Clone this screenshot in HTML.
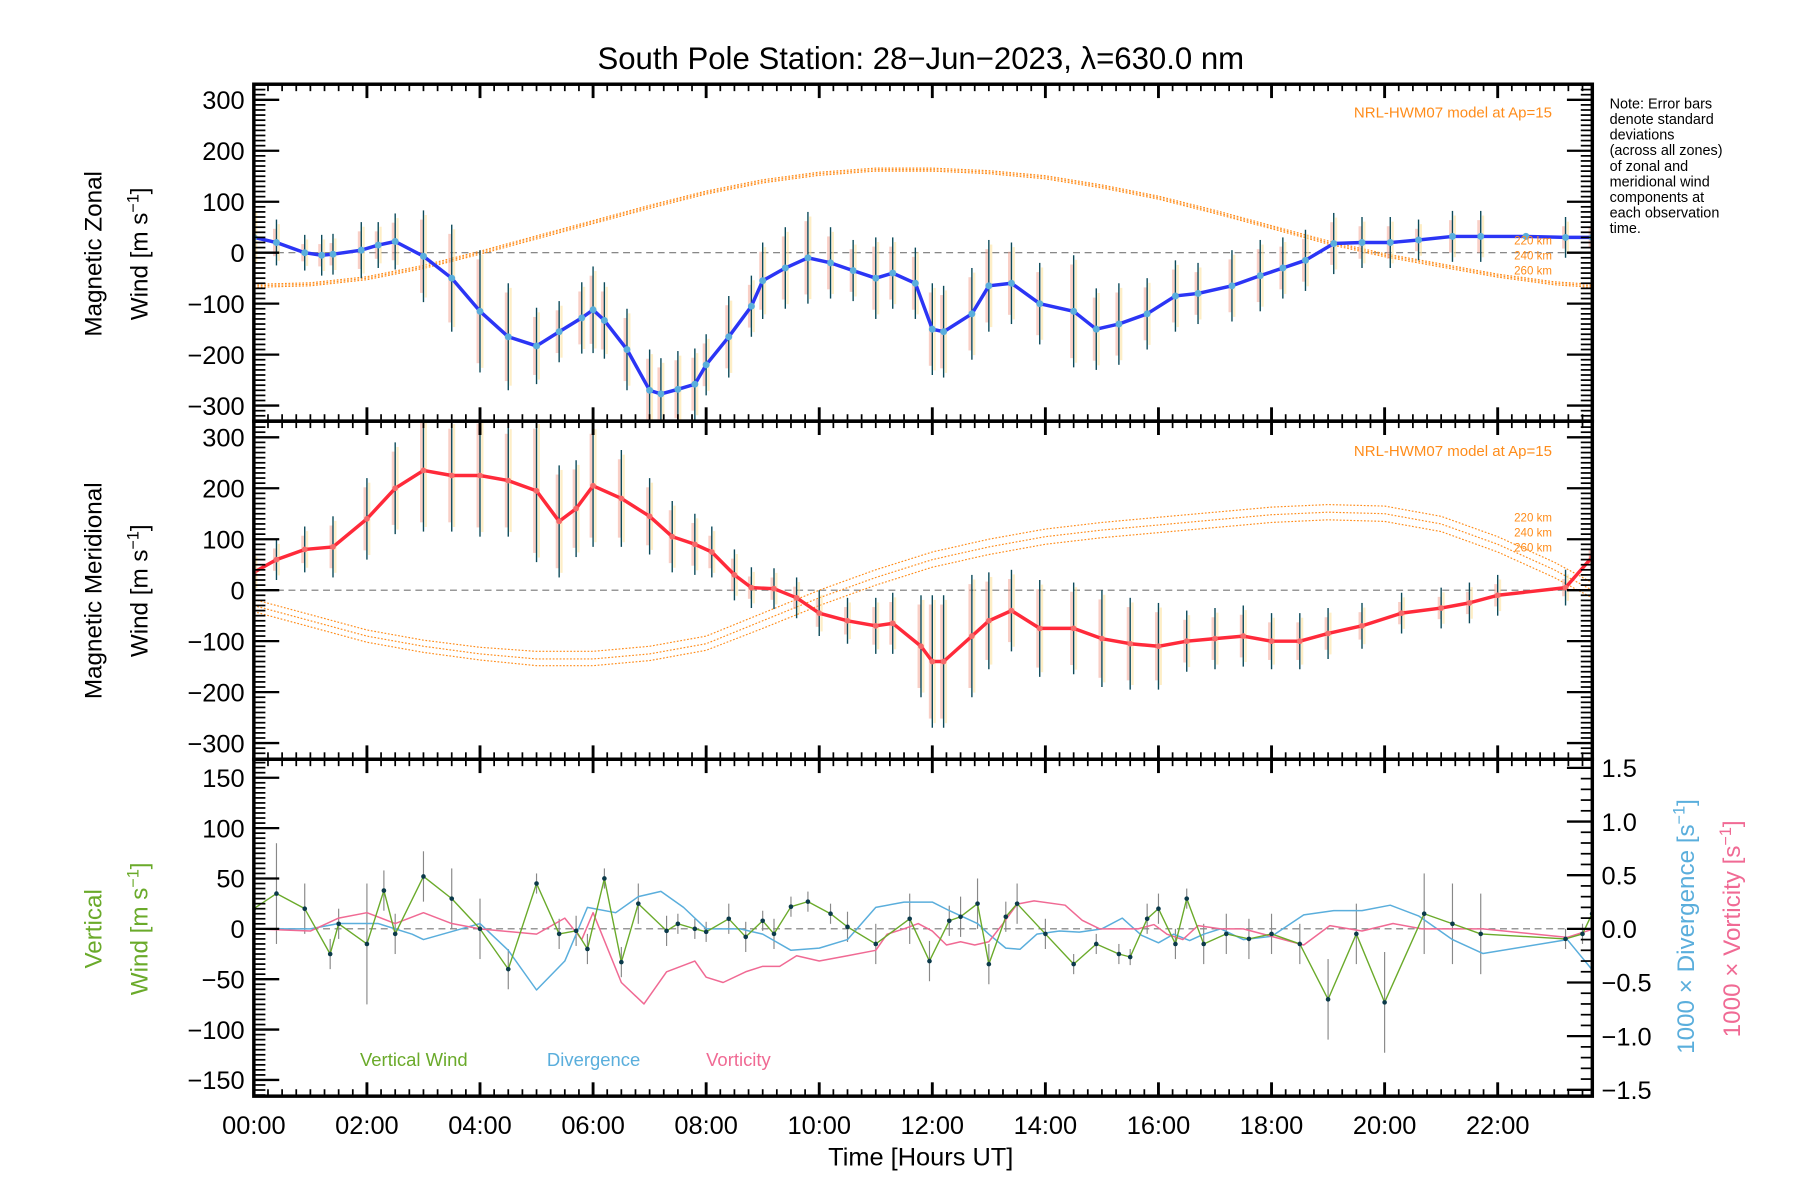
<!DOCTYPE html>
<html><head><meta charset="utf-8"><style>
html,body{margin:0;padding:0;background:#fff;width:1800px;height:1200px;overflow:hidden}
svg{display:block}
text{font-family:"Liberation Sans",sans-serif}
</style></head><body>
<svg id="chart" width="1800" height="1200" viewBox="0 0 1560 1040" xmlns="http://www.w3.org/2000/svg">
<rect width="1560" height="1040" fill="#fff"/>
<text x="798" y="60" font-size="27" text-anchor="middle" fill="#000">South Pole Station: 28−Jun−2023, λ=630.0 nm</text>
<g id="marks"></g>
<g id="axes"></g>
<text font-size="12.5" fill="#000"><tspan x="1395" y="94">Note: Error bars</tspan><tspan x="1395" y="107.5">denote standard</tspan><tspan x="1395" y="121">deviations</tspan><tspan x="1395" y="134.5">(across all zones)</tspan><tspan x="1395" y="148">of zonal and</tspan><tspan x="1395" y="161.5">meridional wind</tspan><tspan x="1395" y="175">components at</tspan><tspan x="1395" y="188.5">each observation</tspan><tspan x="1395" y="202">time.</tspan></text>
<text transform="translate(88,220) rotate(-90)" font-size="21" text-anchor="middle">Magnetic Zonal</text>
<text transform="translate(128,220) rotate(-90)" font-size="21" text-anchor="middle">Wind [m s<tspan dy="-8" font-size="14">−1</tspan><tspan dy="8">]</tspan></text>
<text transform="translate(88,512) rotate(-90)" font-size="21" text-anchor="middle">Magnetic Meridional</text>
<text transform="translate(128,512) rotate(-90)" font-size="21" text-anchor="middle">Wind [m s<tspan dy="-8" font-size="14">−1</tspan><tspan dy="8">]</tspan></text>
<text transform="translate(88,805) rotate(-90)" font-size="21" text-anchor="middle" fill="#6aaa2a">Vertical</text>
<text transform="translate(128,805) rotate(-90)" font-size="21" text-anchor="middle" fill="#6aaa2a">Wind [m s<tspan dy="-8" font-size="14">−1</tspan><tspan dy="8">]</tspan></text>
<text transform="translate(1468,803) rotate(-90)" font-size="21" text-anchor="middle" fill="#5aaedc">1000 × Divergence [s<tspan dy="-8" font-size="14">−1</tspan><tspan dy="8">]</tspan></text>
<text transform="translate(1508,805) rotate(-90)" font-size="21" text-anchor="middle" fill="#f06a94">1000 × Vorticity [s<tspan dy="-8" font-size="14">−1</tspan><tspan dy="8">]</tspan></text>
<text x="798" y="1010" font-size="22" text-anchor="middle">Time [Hours UT]</text>
<text x="1345" y="102" font-size="13" text-anchor="end" fill="#ff8c1a">NRL-HWM07 model at Ap=15</text>
<text x="1345" y="395" font-size="13" text-anchor="end" fill="#ff8c1a">NRL-HWM07 model at Ap=15</text>
<g font-size="10" fill="#ff8c1a" text-anchor="end">
<text x="1345" y="212">220 km</text>
<text x="1345" y="225">240 km</text>
<text x="1345" y="238">260 km</text>
<text x="1345" y="452">220 km</text>
<text x="1345" y="465">240 km</text>
<text x="1345" y="478">260 km</text>
</g>
<g font-size="16">
<text x="312" y="924" fill="#6aaa2a">Vertical Wind</text>
<text x="474" y="924" fill="#5aaedc">Divergence</text>
<text x="612" y="924" fill="#f06a94">Vorticity</text>
</g>
</svg>
<script>
// ---- data ----
const zonalHours=[0,0.4,0.9,1.2,1.4,1.9,2.2,2.5,3.0,3.5,4.0,4.5,5.0,5.4,5.8,6.0,6.2,6.6,7.0,7.2,7.5,7.8,8.0,8.4,8.8,9.0,9.4,9.8,10.2,10.6,11.0,11.3,11.7,12.0,12.2,12.7,13.0,13.4,13.9,14.5,14.9,15.3,15.8,16.3,16.7,17.3,17.8,18.2,18.6,19.1,19.6,20.1,20.6,21.2,21.7,22.5,23.2,23.67];
const zonalValues=[30,20,0,-5,-3,5,15,22,-7,-50,-115,-165,-183,-155,-128,-112,-133,-190,-270,-277,-268,-258,-220,-165,-105,-55,-30,-10,-20,-35,-50,-40,-60,-150,-155,-120,-65,-60,-100,-115,-150,-140,-120,-85,-80,-65,-45,-30,-15,18,20,20,25,32,32,32,30,30];
const zonalErr=[60,45,35,40,40,55,45,55,90,105,120,105,75,60,70,85,75,80,80,70,75,70,60,80,60,75,80,90,70,60,80,70,70,90,90,90,90,80,80,110,80,80,70,70,60,70,70,60,60,60,50,50,40,50,50,0,40,40];
const meridHours=[0,0.4,0.9,1.4,2.0,2.5,3.0,3.5,4.0,4.5,5.0,5.4,5.7,6.0,6.5,7.0,7.4,7.8,8.1,8.5,8.8,9.2,9.6,10.0,10.5,11.0,11.3,11.8,12.0,12.2,12.7,13.0,13.4,13.9,14.5,15.0,15.5,16.0,16.5,17.0,17.5,18.0,18.5,19.0,19.6,20.3,21.0,21.5,22.0,23.2,23.67];
const meridValues=[35,60,80,85,140,200,235,225,225,215,195,135,160,205,180,145,105,90,75,30,5,3,-15,-45,-60,-70,-65,-110,-140,-140,-90,-60,-40,-75,-75,-95,-105,-110,-100,-95,-90,-100,-100,-85,-70,-45,-35,-25,-10,5,65];
const meridErr=[40,40,45,60,80,90,120,110,120,110,140,110,95,120,95,75,70,60,50,50,40,40,40,45,45,55,60,100,130,130,120,95,80,95,90,95,90,85,60,60,60,55,55,50,45,40,40,40,40,35,35];
const hwmHours=[0,1,2,3,4,5,6,7,8,9,10,11,12,13,14,15,16,17,18,19,20,21,22,23,23.67];
const hwmZonal220=[-62,-59,-47,-25,3,33,63,93,121,143,158,166,166,161,151,133,111,83,53,23,-2,-22,-42,-57,-62];
const hwmZonal240=[-65,-62,-50,-28,0,30,60,90,118,140,155,163,163,158,148,130,108,80,50,20,-5,-25,-45,-60,-65];
const hwmZonal260=[-68,-65,-53,-31,-3,27,57,87,115,137,152,160,160,155,145,127,105,77,47,17,-8,-28,-48,-63,-68];
const hwmMerid220=[-18,-48,-78,-98,-112,-120,-120,-110,-90,-45,0,40,75,100,120,133,143,153,163,168,165,145,105,55,15];
const hwmMerid240=[-30,-60,-90,-110,-125,-135,-135,-125,-105,-60,-15,25,60,85,105,118,128,138,148,153,150,130,90,40,0];
const hwmMerid260=[-42,-72,-102,-122,-137,-148,-148,-138,-118,-75,-30,10,45,70,90,103,113,123,133,138,135,115,75,25,-15];
const vertHours=[0,0.4,0.9,1.35,1.5,2.0,2.3,2.5,3.0,3.5,4.0,4.5,5.0,5.4,5.7,5.9,6.2,6.5,6.8,7.3,7.5,7.8,8.0,8.4,8.7,9.0,9.2,9.5,9.8,10.2,10.5,11.0,11.6,11.95,12.3,12.5,12.8,13.0,13.3,13.5,14.0,14.5,14.9,15.3,15.5,15.8,16.0,16.3,16.5,16.8,17.2,17.6,18.0,18.5,19.0,19.5,20.0,20.7,21.2,21.7,23.2,23.5,23.67];
const vertValues=[20,35,20,-25,5,-15,38,-5,52,30,0,-40,45,-5,-2,-20,50,-33,25,-2,5,0,-3,10,-8,8,-5,22,27,15,2,-15,10,-32,8,12,25,-35,12,25,-5,-35,-15,-25,-28,10,20,-15,30,-15,-5,-10,-5,-15,-70,-5,-73,15,5,-5,-10,-5,15];
const vertErr=[35,50,25,15,15,60,20,20,25,30,30,20,10,15,15,15,10,15,20,15,10,10,10,15,15,10,15,10,10,10,15,20,25,20,15,20,25,20,15,20,15,10,10,10,8,15,15,15,10,20,20,20,20,20,40,30,50,40,40,40,10,10,10];
const divHours=[0,1.0,1.5,2.2,2.8,3.0,4.0,4.5,5.0,5.5,5.9,6.4,6.8,7.2,7.6,8.0,8.6,9.0,9.5,10.0,10.5,11.0,11.5,12.0,12.3,12.8,13.0,13.3,13.55,13.85,14.25,14.6,15.0,15.36,15.7,16.0,16.27,16.55,16.8,17.1,17.5,18.0,18.57,19.1,19.6,20.1,20.6,21.2,21.74,23.23,23.7];
const divValues=[0,0,0.05,0.05,-0.05,-0.1,0.05,-0.2,-0.57,-0.3,0.2,0.15,0.3,0.35,0.2,0,0,-0.05,-0.2,-0.18,-0.1,0.2,0.25,0.25,0.17,0.05,-0.05,-0.18,-0.19,-0.05,-0.02,-0.03,0,0.1,-0.06,-0.13,-0.05,-0.11,-0.05,0,-0.1,-0.07,0.13,0.17,0.17,0.22,0.12,-0.1,-0.23,-0.1,-0.4];
const vortHours=[0,1,1.5,2,2.5,3,3.5,4,5,5.5,5.8,6.0,6.5,6.9,7.3,7.8,8.0,8.3,8.7,9.0,9.3,9.6,10.0,10.5,11.0,11.2,11.5,11.75,12.0,12.25,12.5,12.75,13.0,13.25,13.5,13.8,14.35,14.65,14.96,15.64,15.92,16.15,16.43,16.7,17.1,17.5,18.0,18.57,19.03,19.6,20.15,20.66,21.2,21.74,23.23,23.7];
const vortValues=[0,-0.02,0.1,0.15,0.05,0.15,0.05,0,-0.05,0.1,-0.1,0.15,-0.5,-0.7,-0.4,-0.3,-0.45,-0.5,-0.4,-0.35,-0.35,-0.25,-0.3,-0.25,-0.2,-0.05,0,0.05,-0.02,-0.15,-0.12,-0.15,-0.12,0.05,0.23,0.26,0.22,0.08,0,0,0.04,-0.05,-0.1,0.03,0,0,-0.07,-0.15,0.03,-0.02,0.05,0,0,0,-0.08,0];
const xTickLabels=["00:00","02:00","04:00","06:00","08:00","10:00","12:00","14:00","16:00","18:00","20:00","22:00"];
const windTicks=[-300,-200,-100,0,100,200,300];
const vertTicks=[-150,-100,-50,0,50,100,150];
const rightTicks=["-1.5","-1.0","-0.5","0.0","0.5","1.0","1.5"];

// ---- layout ----
const NS="http://www.w3.org/2000/svg";
const L=220,R=1380;
const P1={top:73,bot:365},P2={top:365,bot:658},P3={top:658,bot:950};
const xS=h=>L+h*49;
const windY=P=>v=>(P.top+P.bot)/2 - v*0.4417;
const y1=windY(P1),y2=windY(P2);
const y3=v=>805 - v*0.873;
const y3r=v=>805 - v*93;
const marks=document.getElementById('marks'),axes=document.getElementById('axes');
function mk(tag,attrs,parent){const e=document.createElementNS(NS,tag);for(const k in attrs)e.setAttribute(k,attrs[k]);parent.appendChild(e);return e;}
function poly(xs,ys,yf,stroke,w,dash,name){
  const pts=xs.map((h,i)=>xS(h).toFixed(1)+','+yf(ys[i]).toFixed(1)).join(' ');
  const e=mk('polyline',{points:pts,fill:'none',stroke:stroke,'stroke-width':w,'stroke-linejoin':'round'},marks);
  if(dash)e.setAttribute('stroke-dasharray',dash);
  
  
  return e;
}
function clip(id,P){const c=mk('clipPath',{id:id},marks);mk('rect',{x:L,y:P.top,width:R-L,height:P.bot-P.top},c);}
clip('c1',P1);clip('c2',P2);clip('c3',P3);
const g1=mk('g',{'clip-path':'url(#c1)'},marks),g2=mk('g',{'clip-path':'url(#c2)'},marks),g3=mk('g',{'clip-path':'url(#c3)'},marks);

// zero lines
[[y1(0)],[y2(0)],[y3(0)]].forEach((a,i)=>{const e=mk('line',{x1:L,x2:R,y1:a[0],y2:a[0],stroke:'#777','stroke-width':1,'stroke-dasharray':'6,4'},[g1,g2,g3][i]);
 
 });

function errorBars(g,hours,vals,errs,yf,name){
  hours.forEach((h,i)=>{
    const x=xS(h),yt=yf(vals[i]+errs[i]),yb=yf(vals[i]-errs[i]);
    const bg=mk('rect',{x:x-3,y:yt+8,width:3,height:Math.max(0,yb-yt-16),fill:'#f4a898',opacity:0.55},g);
    
    
    const bg2=mk('rect',{x:x+1,y:yt+4,width:2,height:Math.max(0,yb-yt-8),fill:'#fde3a0',opacity:0.6},g);
    
    
    const e=mk('line',{x1:x,x2:x,y1:yt,y2:yb,stroke:'#0b4a5a','stroke-width':1.2},g);
    
    
  });
}
function dots(g,hours,vals,yf,fill,r,name){
  hours.forEach((h,i)=>{const c=mk('circle',{cx:xS(h),cy:yf(vals[i]),r:r,fill:fill},g);
    
    });
}
// panel 1
[hwmZonal220,hwmZonal240,hwmZonal260].forEach((arr,i)=>{const e=poly(hwmHours,arr,y1,'#ff8c1a',1,'1.5,1.5','hwm-zonal-'+['220','240','260'][i]);g1.appendChild(e);});
errorBars(g1,zonalHours,zonalValues,zonalErr,y1,'zonal');
g1.appendChild(poly(zonalHours,zonalValues,y1,'#2b35f5',3,null,'zonal-wind-line'));
dots(g1,zonalHours,zonalValues,y1,'#5aaedc',3,'zonal-point');
// panel 2
[hwmMerid220,hwmMerid240,hwmMerid260].forEach((arr,i)=>{const e=poly(hwmHours,arr,y2,'#ff8c1a',1,'1.5,1.5','hwm-meridional-'+['220','240','260'][i]);g2.appendChild(e);});
errorBars(g2,meridHours,meridValues,meridErr,y2,'meridional');
g2.appendChild(poly(meridHours,meridValues,y2,'#ff2a3a',3,null,'meridional-wind-line'));
dots(g2,meridHours,meridValues,y2,'#f46a6a',2.5,'meridional-point');
// panel 3
vertHours.forEach((h,i)=>{const e=mk('line',{x1:xS(h),x2:xS(h),y1:y3(vertValues[i]+vertErr[i]),y2:y3(vertValues[i]-vertErr[i]),stroke:'#888','stroke-width':1},g3);
 
 });
g3.appendChild(poly(divHours,divValues,y3r,'#5aaedc',1.3,null,'divergence-line'));
g3.appendChild(poly(vortHours,vortValues,y3r,'#f06a94',1.3,null,'vorticity-line'));
g3.appendChild(poly(vertHours,vertValues,y3,'#6aaa2a',1.2,null,'vertical-wind-line'));
dots(g3,vertHours,vertValues,y3,'#0b3a4a',2,'vertical-point');

// ---- axes ----
function tline(x1,y1,x2,y2,w,name){const e=mk('line',{x1:x1,y1:y1,x2:x2,y2:y2,stroke:'#000','stroke-width':w},axes);
  
  }
function txt(x,y,s,anchor,size,name){const e=mk('text',{x:x,y:y,'font-size':size,'text-anchor':anchor,fill:'#000'},axes);e.textContent=s.replace('-','−');
  
  }
[P1,P2,P3].forEach((P,pi)=>{
  // x ticks
  for(let q=0;q<=94;q++){const h=q/4;const x=xS(h);if(x>R)break;const major=q%8===0;const len=major?12:6;
    tline(x,P.top,x,P.top+len,major?2.5:1.5,'x-tick');tline(x,P.bot,x,P.bot-len,major?2.5:1.5,'x-tick');}
  // left y ticks
  const yf=pi===0?y1:pi===1?y2:y3;const step=pi===2?5:10;const maj=pi===2?50:100;
  for(let v=-340;v<=340;v+=step){const y=yf(v);if(y<P.top-0.5||y>P.bot+0.5)continue;const major=v%maj===0;const len=major?22:10;
    tline(L,y,L+len,y,major?2:1.5,'y-tick');
    if(pi<2||pi===2&&false) tline(R,y,R-len,y,major?2:1.5,'y-tick-right');}
  const labels=pi===2?vertTicks:windTicks;
  labels.forEach(v=>{txt(L-8,yf(v)+8,String(v),'end',22,'y-tick-label');});
});
// right axis panel 3
for(let k=-16;k<=16;k++){const v=k/10;const y=y3r(v);if(y<P3.top||y>P3.bot)continue;const major=k%5===0;tline(R,y,R-(major?22:10),y,major?2:1.5,'y-tick-right');}
rightTicks.forEach(s=>{txt(R+8,y3r(parseFloat(s))+8,s,'start',22,'right-tick-label');});
// x labels
xTickLabels.forEach((s,i)=>txt(xS(i*2),983,s,'middle',22,'x-tick-label'));
// borders
[P1,P2,P3].forEach(P=>{const r=mk('rect',{x:L,y:P.top,width:R-L,height:P.bot-P.top,fill:'none',stroke:'#000','stroke-width':3},axes);
  
  });
</script>
</body></html>
